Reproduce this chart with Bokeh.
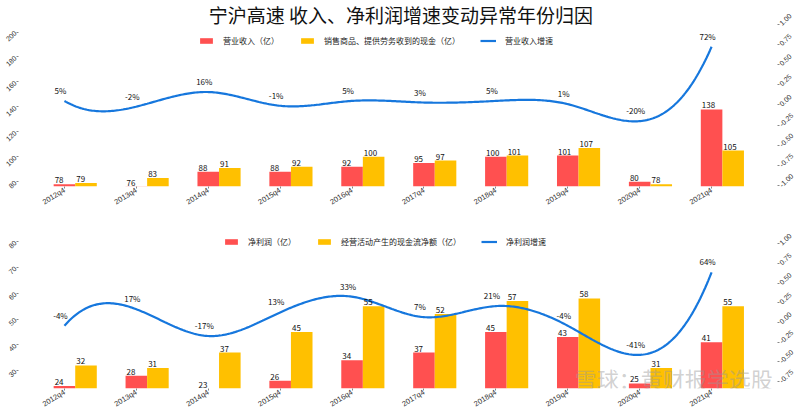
import numpy as np
from bokeh.plotting import figure
from bokeh.models import (Range1d, LinearAxis, FixedTicker,
                          NumeralTickFormatter, Legend, LegendItem, Label, ColumnDataSource)
from bokeh.layouts import column
from bokeh.embed import file_html
from bokeh.resources import INLINE
from bokeh.core.properties import value

# ---------------- data ----------------
periods = ["2012q4", "2013q4", "2014q4", "2015q4", "2016q4",
           "2017q4", "2018q4", "2019q4", "2020q4", "2021q4"]
revenue = [78, 76, 88, 88, 92, 95, 100, 101, 80, 138]
cash_from_sales = [79, 83, 91, 92, 100, 97, 101, 107, 78, 105]
revenue_growth = [0.05, -0.02, 0.16, -0.01, 0.05, 0.03, 0.05, 0.01, -0.20, 0.72]
net_profit = [24, 28, 23, 26, 34, 37, 45, 43, 25, 41]
operating_cash = [32, 31, 37, 45, 55, 52, 57, 58, 31, 55]
profit_growth = [-0.04, 0.17, -0.17, 0.13, 0.33, 0.07, 0.21, -0.04, -0.41, 0.64]

top_left_ticks = [80, 100, 120, 140, 160, 180, 200]
bottom_left_ticks = [30, 40, 50, 60, 70, 80]
top_right_ticks = [-1.0, -0.75, -0.5, -0.25, 0.0, 0.25, 0.5, 0.75, 1.0]
bottom_right_ticks = [-0.75, -0.5, -0.25, 0.0, 0.25, 0.5, 0.75, 1.0]

RED = "#ff5050"
YELLOW = "#ffc000"
BLUE = "#1677dd"
FONT = "Noto Sans CJK SC"
TICK_FONT = "Liberation Sans"
BAR_W = 0.3

W = 798
FL, FR = 17, 777          # frame edges (px) inside the figure
X_PX0, X_PX_STEP = 63, 72  # pixel of first category, pixels per category


def smooth(vals, n=400):
    """cubic spline (not-a-knot) through the points, for the smoothed line."""
    y = np.asarray(vals, float)
    m = len(y)
    A = np.zeros((m, m))
    b = np.zeros(m)
    A[0, :3] = [1, -2, 1]
    A[-1, -3:] = [1, -2, 1]
    for i in range(1, m - 1):
        A[i, i - 1:i + 2] = [1, 4, 1]
        b[i] = 6 * (y[i + 1] - 2 * y[i] + y[i - 1])
    M = np.linalg.solve(A, b)
    xs = np.linspace(0, m - 1, n)
    idx = np.minimum(np.floor(xs).astype(int), m - 2)
    t = xs - idx
    ys = (M[idx] * (1 - t) ** 3 / 6 + M[idx + 1] * t ** 3 / 6
          + (y[idx] - M[idx] / 6) * (1 - t) + (y[idx + 1] - M[idx + 1] / 6) * t)
    return xs, ys


def rng_from(va, pa, vb, pb, top, bottom):
    """value range so that value va sits at pixel pa and vb at pb, for a frame top..bottom"""
    k = (pb - pa) / (vb - va)
    return (va + (bottom - pa) / k, va + (top - pa) / k)


def style_axis(ax, size="7px"):
    ax.axis_line_color = None
    ax.major_tick_line_color = "#888888"
    ax.major_tick_out = 2
    ax.major_tick_in = 0
    ax.minor_tick_line_color = None
    ax.major_label_text_font = TICK_FONT
    ax.major_label_text_font_size = size
    ax.major_label_text_color = "#333333"
    ax.major_label_standoff = 1


def make_panel(bars1, bars2, growth, names, left_rng, left_ticks, right_rng,
               right_ticks, height, legend_xy):
    x = np.arange(len(periods))
    xs0 = -(X_PX0 - FL) / X_PX_STEP
    xe0 = xs0 + (FR - FL) / X_PX_STEP
    p = figure(width=W, height=height, output_backend="svg", toolbar_location=None,
               x_range=Range1d(xs0, xe0), y_range=Range1d(*left_rng),
               min_border_left=FL, min_border_right=W - FR, min_border_top=0,
               min_border_bottom=0)
    p.extra_y_ranges = {"g": Range1d(*right_rng)}
    p.outline_line_color = None
    p.xgrid.visible = False
    p.ygrid.visible = False
    p.background_fill_color = "white"

    src = ColumnDataSource(dict(
        x=x, xr=x.astype(float), xy=x + BAR_W,
        xl_r=x - BAR_W / 2, xl_y=x + BAR_W / 2,
        a=bars1, b=bars2, g=growth,
        ta=[str(v) for v in bars1], tb=[str(v) for v in bars2],
        tg=[f"{round(v * 100):d}%" for v in growth]))

    base = left_rng[0] - 50
    r1 = p.vbar(x="xr", top="a", bottom=base, width=BAR_W, source=src,
                fill_color=RED, line_color=None)
    r2 = p.vbar(x="xy", top="b", bottom=base, width=BAR_W, source=src,
                fill_color=YELLOW, line_color=None)
    sx, sy = smooth(growth)
    r3 = p.line(sx, sy, line_color=BLUE, line_width=2.2, y_range_name="g")

    tkw = dict(text_font=value(FONT), text_font_size="8px", text_color="#111111",
               text_baseline="bottom")
    p.text(x="xl_r", y="a", text="ta", source=src, text_align="left",
           x_offset=1, y_offset=-1, **tkw)
    p.text(x="xl_y", y="b", text="tb", source=src, text_align="left",
           x_offset=1, y_offset=-1, **tkw)
    p.text(x="x", y="g", text="tg", source=src, text_align="center",
           x_offset=-4, y_offset=-5, y_range_name="g", **tkw)

    style_axis(p.xaxis[0], "7.5px")
    style_axis(p.yaxis[0])
    p.xaxis.ticker = FixedTicker(ticks=list(range(len(periods))))
    p.xaxis.major_label_overrides = {i: s for i, s in enumerate(periods)}
    p.xaxis.major_label_orientation = 0.55
    p.yaxis.ticker = FixedTicker(ticks=left_ticks)
    p.yaxis.major_label_orientation = 0.75

    ra = LinearAxis(y_range_name="g", ticker=FixedTicker(ticks=right_ticks),
                    formatter=NumeralTickFormatter(format="0.00"))
    style_axis(ra)
    ra.major_label_orientation = 0.75
    p.add_layout(ra, "right")

    legend = Legend(items=[LegendItem(label=names[0], renderers=[r1]),
                           LegendItem(label=names[1], renderers=[r2]),
                           LegendItem(label=names[2], renderers=[r3])],
                    orientation="horizontal", location=legend_xy,
                    border_line_color=None, background_fill_alpha=0,
                    label_text_font=FONT, label_text_font_size="8px",
                    label_text_color="#222222", glyph_width=16, glyph_height=7,
                    label_standoff=9, spacing=20, padding=0, margin=0,
                    label_height=10)
    p.add_layout(legend, "center")
    return p


H1, H2 = 213, 202
AX_H = 24                      # expected height of the bottom axis
T1, B1 = 0, H1 - AX_H
T2, B2 = 0, H2 - AX_H          # frame coordinates inside fig2
OFF2 = H1                      # fig2 top in the page

p1 = make_panel(revenue, cash_from_sales, revenue_growth,
                ["营业收入（亿）", "销售商品、提供劳务收到的现金（亿）", "营业收入增速"],
                rng_from(80, 185.7, 200, 32.3, T1, B1 + 1.5), top_left_ticks,
                rng_from(-1.0, 188.3, 1.0, 24.0, T1, B1), top_right_ticks,
                H1, (197 - FL, B1 - 49))
p2 = make_panel(net_profit, operating_cash, profit_growth,
                ["净利润（亿）", "经营活动产生的现金流净额（亿）", "净利润增速"],
                rng_from(30, 374 - OFF2, 80, 242 - OFF2, T2, B2 + 1.4), bottom_left_ticks,
                rng_from(0.0, 324 - OFF2, 1.0, 244 - OFF2, T2, B2), bottom_right_ticks,
                H2, (222 - FL, B2 - (250 - OFF2)))

lo1, hi1 = p1.y_range.start, p1.y_range.end
title = Label(x=(402 - X_PX0) / X_PX_STEP, y=hi1 - (hi1 - lo1) * 14 / B1,
              text="宁沪高速  收入、净利润增速变动异常年份归因",
              text_font=FONT, text_font_size="19px", text_align="center",
              text_baseline="middle", text_color="#111111")
p1.add_layout(title)

lo2, hi2 = p2.y_range.start, p2.y_range.end
wm = Label(x=(574 - X_PX0) / X_PX_STEP, y=lo2 + (hi2 - lo2) * 11 / B2,
           text="雪球：黄财报学选股",
           text_font=FONT, text_font_size="22px", text_align="left",
           text_baseline="middle", text_color="#999999", text_alpha=0.45)
p2.add_layout(wm)

layout = column(p1, p2, spacing=0)
open("out.html", "w").write(file_html(layout, INLINE))
